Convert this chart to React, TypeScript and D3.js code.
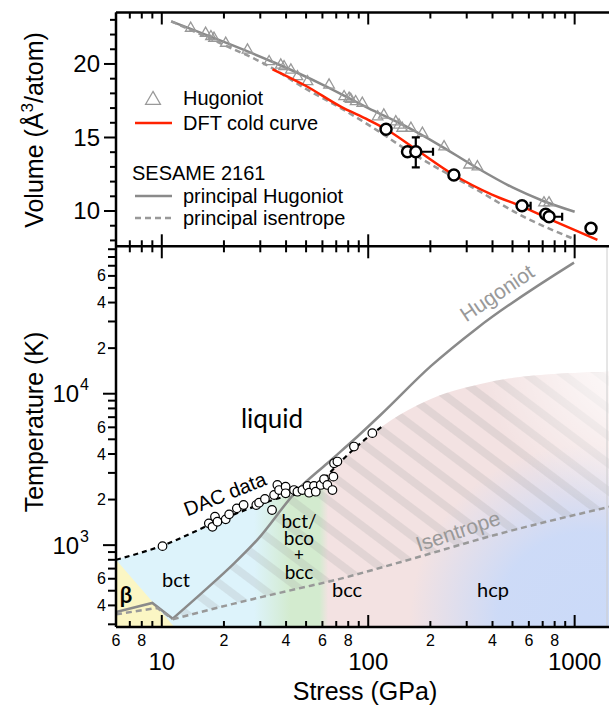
import * as d3 from 'd3'

// ---- top panel: volume vs stress ----
const hugExpP = [13.8, 16.3, 17.3, 17.9, 20.4, 26, 33.1, 37.7, 39.1, 42.2, 45.4, 50.8, 64.6, 76.4, 80.8, 82.2, 86.9, 93.6, 111, 119, 136, 141, 146, 161, 183, 233, 308, 338, 710, 751]
const hugExpV = [22.43, 22.09, 21.86, 21.75, 21.41, 20.95, 20.16, 19.93, 19.82, 19.59, 19.14, 18.8, 18.57, 17.78, 17.67, 17.6, 17.44, 17.33, 16.41, 16.53, 16.07, 15.85, 15.63, 15.63, 15.29, 14.37, 13.13, 13.01, 10.56, 10.56]

const sesHugP = [11.1, 20, 35, 60, 100, 150, 220, 330, 500, 700, 1000]
const sesHugV = [22.9, 21.5, 20.1, 18.6, 17.0, 15.8, 14.5, 13.0, 11.6, 10.7, 9.95]
const sesIsoP = [11.1, 20, 32.5, 50, 73.6, 110, 160, 224, 330, 568, 975]
const sesIsoV = [22.9, 21.3, 19.9, 18.3, 17.0, 15.5, 14.0, 12.8, 11.5, 9.6, 8.14]
const dftP = [34.4, 50, 73.6, 100, 122, 170, 260, 400, 556, 800, 1289]
const dftV = [19.64, 18.5, 17.1, 16.2, 15.56, 14.2, 12.45, 11.1, 10.3, 9.3, 8.03]

const xrdP = [122, 155, 170, 260, 556, 724, 752, 1200]
const xrdV = [15.56, 14.03, 14.03, 12.45, 10.36, 9.78, 9.61, 8.82]
const xrdPhi = [0, 0, 206, 0, 612, 0, 870, 0]
const xrdVlo = [0, 0, 12.97, 0, 0, 0, 0, 0]
const xrdVhi = [0, 0, 15.01, 0, 0, 0, 0, 0]

// ---- bottom panel: temperature vs stress ----
const dacP = [6, 10, 20, 35, 55, 65, 85, 119]
const dacT = [800, 990, 1500, 2000, 2400, 3000, 4300, 6200]
const meltExtP = [170, 241, 350, 507, 800, 1500]
const meltExtT = [8300, 10150, 11600, 12760, 13500, 14000]

const meltDataP = [10.08, 16.9, 18.1, 17.6, 18.6, 20.4, 21.2, 23.1, 24.9, 28.7, 29.6, 31.6, 34.2, 35.0, 36.3, 37.0, 39.8, 39.8, 43.7, 45.4, 48.0, 50.8, 51.7, 54.6, 55.7, 58.9, 61.1, 63.4, 67.1, 67.8, 68.3, 70.9, 85.3, 104.7]
const meltDataT = [985, 1393, 1540, 1321, 1427, 1480, 1597, 1750, 1841, 1841, 1906, 2017, 1706, 2143, 2496, 2312, 2432, 2200, 2312, 2254, 2312, 2460, 2220, 2460, 2254, 2497, 2723, 2497, 2312, 2834, 3475, 3565, 4478, 5492]

const hugLowP = [6, 9, 11.3]
const hugLowT = [361, 415, 327]
const hugP = [11.3, 15.5, 22.4, 29, 45.4, 63.4, 88.7, 115, 201, 338, 993]
const hugT = [327, 478, 757, 1084, 2311, 3475, 5216, 7260, 15200, 27200, 73400]

const isenLowP = [6, 9.5, 11.3]
const isenLowT = [349, 385, 324]
const isenP = [11.3, 22.4, 45, 68.4, 144, 438, 1500]
const isenT = [324, 411, 514, 586, 774, 1195, 1800]

const betaEdgeP = [6, 11.5]
const betaEdgeT = [800, 288]

const xMinorLabels = [6, 8, 20, 40, 60, 80, 200, 400, 600, 800]
const xMajorLabels = [10, 100, 1000]
const tMinorLabels = [400, 600, 2000, 4000, 6000, 20000, 40000, 60000]
const tMajorLabels = [1000, 10000]
const vMajorLabels = [10, 15, 20]

const SANS = "'Liberation Sans', Arial, sans-serif"
const CAL = "Lato, 'Open Sans', sans-serif"

type Pt = [number, number]
const zip = (a: number[], b: number[]): Pt[] => a.map((v, i) => [v, b[i]])

export default function App() {
  const x = d3.scaleLog().domain([6, 1500]).range([116, 611])
  const yV = d3.scaleLinear().domain([7.6, 23.5]).range([246.3, 12.5])
  const yT = d3.scaleLog().domain([288, 94100]).range([627, 246.3])

  const left = 116, right = 611
  const topTop = yV.range()[1], mid = yV.range()[0], bottom = yT.range()[0]

  const lineV = d3.line<Pt>().x(d => x(d[0])).y(d => yV(d[1])).curve(d3.curveMonotoneX)
  const lineT = d3.line<Pt>().x(d => x(d[0])).y(d => yT(d[1])).curve(d3.curveMonotoneX)
  const lineTlin = d3.line<Pt>().x(d => x(d[0])).y(d => yT(d[1]))

  // ticks
  const decTicks = (lo: number, hi: number) => {
    const out: { v: number; major: boolean }[] = []
    for (let d = 1; d <= 1e5; d *= 10)
      for (let m = 1; m <= 9; m++) {
        const v = m * d
        if (v >= lo * 0.999 && v <= hi * 1.001) out.push({ v, major: m === 1 })
      }
    return out
  }
  const xt = decTicks(6, 1500)
  const tt = decTicks(288, 94100)
  const vt = d3.range(8, 24).map(v => ({ v, major: v % 5 === 0 }))

  // melt boundary / solid region
  const meltPts = [...zip(dacP, dacT), ...zip(meltExtP, meltExtT)]
  const solidArea = d3.area<Pt>().x(d => x(d[0])).y0(bottom).y1(d => yT(d[1])).curve(d3.curveMonotoneX)
  const solidPath = solidArea(meltPts) || ''

  // band between isentrope and hugoniot (hatched)
  const hugPath = lineT(zip(hugP, hugT)) || ''
  const isenRev = zip(isenP, isenT).slice().reverse()
  const isenRevPath = (lineT(isenRev) || '').replace(/^M/, 'L')
  const bandPath = `${hugPath}L${x(1500)},${yT(94100)}L${x(1500)},${yT(1800)}${isenRevPath}Z`

  const betaPath = `${lineTlin(zip(betaEdgeP, betaEdgeT))}L${x(6)},${bottom}Z`

  const off = (p: number) => (x(p) - left) / (right - left)

  const tri = d3.symbol(d3.symbolTriangle, 48)()
  const triLeg = d3.symbol(d3.symbolTriangle, 95)()

  return (
    <svg width={609} height={709} style={{ position: 'absolute', left: 0, top: 0, background: '#fff' }}>
      <defs>
        <clipPath id="plotClip">
          <rect x={left} y={mid} width={right - left} height={bottom - mid} />
        </clipPath>
        <clipPath id="topClip">
          <rect x={left} y={topTop} width={right - left} height={mid - topTop} />
        </clipPath>
        <clipPath id="solidClip">
          <path d={solidPath} />
        </clipPath>
        <clipPath id="bandClip">
          <path d={bandPath} />
        </clipPath>
        <linearGradient id="phaseGrad" gradientUnits="userSpaceOnUse" x1={left} x2={right} y1={0} y2={0}>
          <stop offset={0} stopColor="#ddf3fb" />
          <stop offset={off(28)} stopColor="#ddf3fb" />
          <stop offset={off(42)} stopColor="#d3ebcf" />
          <stop offset={off(58)} stopColor="#d3ebcf" />
          <stop offset={off(64)} stopColor="#f3e2e2" />
          <stop offset={1} stopColor="#f3e2e2" />
        </linearGradient>
        <radialGradient id="hcpGrad" gradientUnits="userSpaceOnUse" cx={585} cy={620} r={175}>
          <stop offset={0} stopColor="#cbdaf8" stopOpacity={1} />
          <stop offset={0.5} stopColor="#cbdaf8" stopOpacity={0.95} />
          <stop offset={1} stopColor="#cbdaf8" stopOpacity={0} />
        </radialGradient>
        <radialGradient id="fadeGrad" gradientUnits="userSpaceOnUse" cx={650} cy={350} r={170}>
          <stop offset={0} stopColor="#ffffff" stopOpacity={0.95} />
          <stop offset={0.45} stopColor="#ffffff" stopOpacity={0.6} />
          <stop offset={1} stopColor="#ffffff" stopOpacity={0} />
        </radialGradient>
        <pattern id="hatch" patternUnits="userSpaceOnUse" width={20} height={22} patternTransform="rotate(37)">
          <rect x={0} y={0} width={20} height={8} fill="#9a9a9a" fillOpacity={0.2} />
        </pattern>
      </defs>

      {/* ---------- bottom panel backgrounds ---------- */}
      <g clipPath="url(#plotClip)">
        <g clipPath="url(#solidClip)">
          <rect x={left} y={mid} width={right - left} height={bottom - mid} fill="url(#phaseGrad)" />
          <rect x={left} y={mid} width={right - left} height={bottom - mid} fill="url(#hcpGrad)" />
          <path d={betaPath} fill="#fbf6c4" />
          <g clipPath="url(#bandClip)">
            <rect x={left} y={mid} width={right - left} height={bottom - mid} fill="url(#hatch)" />
          </g>
          <rect x={left} y={mid} width={right - left} height={bottom - mid} fill="url(#fadeGrad)" />
        </g>

        {/* curves */}
        <path d={lineTlin(zip(hugLowP, hugLowT)) || ''} fill="none" stroke="#8a8a8a" strokeWidth={2.5} />
        <path d={hugPath} fill="none" stroke="#8a8a8a" strokeWidth={2.5} />
        <path d={lineTlin(zip(isenLowP, isenLowT)) || ''} fill="none" stroke="#999" strokeWidth={2.5} strokeDasharray="6,4" />
        <path d={lineT(zip(isenP, isenT)) || ''} fill="none" stroke="#999" strokeWidth={2.5} strokeDasharray="6,4" />
        <path d={lineT(zip(dacP, dacT)) || ''} fill="none" stroke="#000" strokeWidth={2.2} strokeDasharray="5,4" />
        {meltDataP.map((p, i) => (
          <circle key={i} cx={x(p)} cy={yT(meltDataT[i])} r={4.3} fill="#fff" stroke="#000" strokeWidth={1.2} />
        ))}

        {/* labels */}
        <text x={272} y={428} fontFamily={CAL} fontSize={26} textAnchor="middle">liquid</text>
        <text transform="translate(225,494) rotate(-21.8)" fontFamily={SANS} fontSize={20} textAnchor="middle" dy="0.35em">DAC data</text>
        <text transform="translate(497,293) rotate(-34)" fontFamily={SANS} fontSize={21} textAnchor="middle" dy="0.35em" fill="#999">Hugoniot</text>
        <text transform="translate(458,531) rotate(-18.5)" fontFamily={SANS} fontSize={21} textAnchor="middle" dy="0.35em" fill="#999">Isentrope</text>
        <text x={176} y={587} fontFamily={CAL} fontSize={20} textAnchor="middle">bct</text>
        <text x={299} y={528} fontFamily={CAL} fontSize={19} textAnchor="middle">bct/</text>
        <text x={299} y={545} fontFamily={CAL} fontSize={19} textAnchor="middle">bco</text>
        <text x={299} y={561} fontFamily={CAL} fontSize={17} textAnchor="middle">+</text>
        <text x={299} y={579} fontFamily={CAL} fontSize={19} textAnchor="middle">bcc</text>
        <text x={347} y={597} fontFamily={CAL} fontSize={20} textAnchor="middle">bcc</text>
        <text x={493} y={597} fontFamily={CAL} fontSize={20} textAnchor="middle">hcp</text>
        <text x={126} y={603} fontFamily={CAL} fontSize={22} fontWeight="bold" textAnchor="middle">β</text>
      </g>
      <line x1={607} x2={607} y1={mid} y2={bottom} stroke="#ccc" strokeWidth={1} />

      {/* ---------- top panel ---------- */}
      <g clipPath="url(#topClip)">
        <path d={lineV(zip(sesHugP, sesHugV)) || ''} fill="none" stroke="#8a8a8a" strokeWidth={2.5} />
        <path d={lineV(zip(sesIsoP, sesIsoV)) || ''} fill="none" stroke="#999" strokeWidth={2.5} strokeDasharray="6,4" />
        {hugExpP.map((p, i) => (
          <path key={i} d={tri || ''} transform={`translate(${x(p)},${yV(hugExpV[i])})`} fill="none" stroke="#999" strokeWidth={1.3} />
        ))}
        <path d={lineV(zip(dftP, dftV)) || ''} fill="none" stroke="#ff2200" strokeWidth={2.5} />
        {xrdP.map((p, i) => {
          const cy = yV(xrdV[i]), cx = x(p)
          return (
            <g key={i} stroke="#000" strokeWidth={2.2}>
              {xrdPhi[i] > 0 && (
                <>
                  <line x1={cx} x2={x(xrdPhi[i])} y1={cy} y2={cy} />
                  <line x1={x(xrdPhi[i])} x2={x(xrdPhi[i])} y1={cy - 4} y2={cy + 4} />
                </>
              )}
              {xrdVlo[i] > 0 && (
                <>
                  <line x1={cx} x2={cx} y1={yV(xrdVlo[i])} y2={yV(xrdVhi[i])} />
                  <line x1={cx - 4} x2={cx + 4} y1={yV(xrdVlo[i])} y2={yV(xrdVlo[i])} />
                  <line x1={cx - 4} x2={cx + 4} y1={yV(xrdVhi[i])} y2={yV(xrdVhi[i])} />
                </>
              )}
            </g>
          )
        })}
        {xrdP.map((p, i) => (
          <circle key={i} cx={x(p)} cy={yV(xrdV[i])} r={5.5} fill="#fff" stroke="#000" strokeWidth={2.5} />
        ))}
      </g>

      {/* legend */}
      <path d={triLeg || ''} transform="translate(153,100)" fill="none" stroke="#999" strokeWidth={1.3} />
      <text x={183} y={105} fontFamily={SANS} fontSize={20}>Hugoniot</text>
      <line x1={135} x2={172} y1={123} y2={123} stroke="#ff2200" strokeWidth={2.5} />
      <text x={183} y={130} fontFamily={SANS} fontSize={20}>DFT cold curve</text>
      <text x={132} y={180} fontFamily={SANS} fontSize={20}>SESAME 2161</text>
      <line x1={135} x2={172} y1={196} y2={196} stroke="#8a8a8a" strokeWidth={2.5} />
      <text x={183} y={203} fontFamily={SANS} fontSize={20}>principal Hugoniot</text>
      <line x1={135} x2={172} y1={218} y2={218} stroke="#999" strokeWidth={2.5} strokeDasharray="6,4" />
      <text x={183} y={225} fontFamily={SANS} fontSize={20}>principal isentrope</text>

      {/* ---------- axes ---------- */}
      <g stroke="#000" strokeWidth={2}>
        {xt.map(t => {
          const px = x(t.v), len = t.major ? 12 : 6
          return (
            <g key={t.v}>
              <line x1={px} x2={px} y1={topTop} y2={topTop + len} />
              <line x1={px} x2={px} y1={mid} y2={mid - len} />
              <line x1={px} x2={px} y1={mid} y2={mid + len} />
              <line x1={px} x2={px} y1={bottom} y2={bottom - len} />
            </g>
          )
        })}
        {vt.map(t => (
          <line key={t.v} x1={left} x2={left - (t.major ? 12 : 6)} y1={yV(t.v)} y2={yV(t.v)} />
        ))}
        {tt.map(t => (
          <line key={t.v} x1={left} x2={left - (t.major ? 13 : 8)} y1={yT(t.v)} y2={yT(t.v)} />
        ))}
      </g>
      <g stroke="#000" strokeWidth={2.5} fill="none">
        <line x1={left} x2={left} y1={topTop} y2={bottom} />
        <line x1={left} x2={right} y1={topTop} y2={topTop} />
        <line x1={left} x2={right} y1={mid} y2={mid} />
        <line x1={left} x2={right} y1={bottom} y2={bottom} />
      </g>

      {/* tick labels */}
      {xMinorLabels.map(v => (
        <text key={v} x={x(v)} y={646} fontFamily={SANS} fontSize={16} textAnchor="middle">
          {String(Math.round(v / Math.pow(10, Math.floor(Math.log10(v)))))}
        </text>
      ))}
      {xMajorLabels.map(v => (
        <text key={v} x={x(v)} y={670} fontFamily={SANS} fontSize={24} textAnchor="middle">{v}</text>
      ))}
      {vMajorLabels.map(v => (
        <text key={v} x={100} y={yV(v)} dy="0.35em" fontFamily={SANS} fontSize={24} textAnchor="end">{v}</text>
      ))}
      {tMinorLabels.map(v => (
        <text key={v} x={106} y={yT(v)} dy="0.35em" fontFamily={SANS} fontSize={16} textAnchor="end">
          {String(Math.round(v / Math.pow(10, Math.floor(Math.log10(v)))))}
        </text>
      ))}
      {tMajorLabels.map(v => (
        <text key={v} x={89} y={yT(v)} dy="0.35em" fontFamily={SANS} fontSize={24} textAnchor="end">
          10<tspan fontSize={16} dy="-0.75em" dx="1">{Math.round(Math.log10(v))}</tspan>
        </text>
      ))}

      {/* axis titles */}
      <text x={365} y={700} fontFamily={SANS} fontSize={25} textAnchor="middle">Stress (GPa)</text>
      <text transform="translate(43,130) rotate(-90)" fontFamily={SANS} fontSize={25} textAnchor="middle">
        Volume (Å<tspan fontSize={17} dy="-10">3</tspan><tspan dy="10">/atom)</tspan>
      </text>
      <text transform="translate(43,422) rotate(-90)" fontFamily={SANS} fontSize={25} textAnchor="middle">Temperature (K)</text>
    </svg>
  )
}
